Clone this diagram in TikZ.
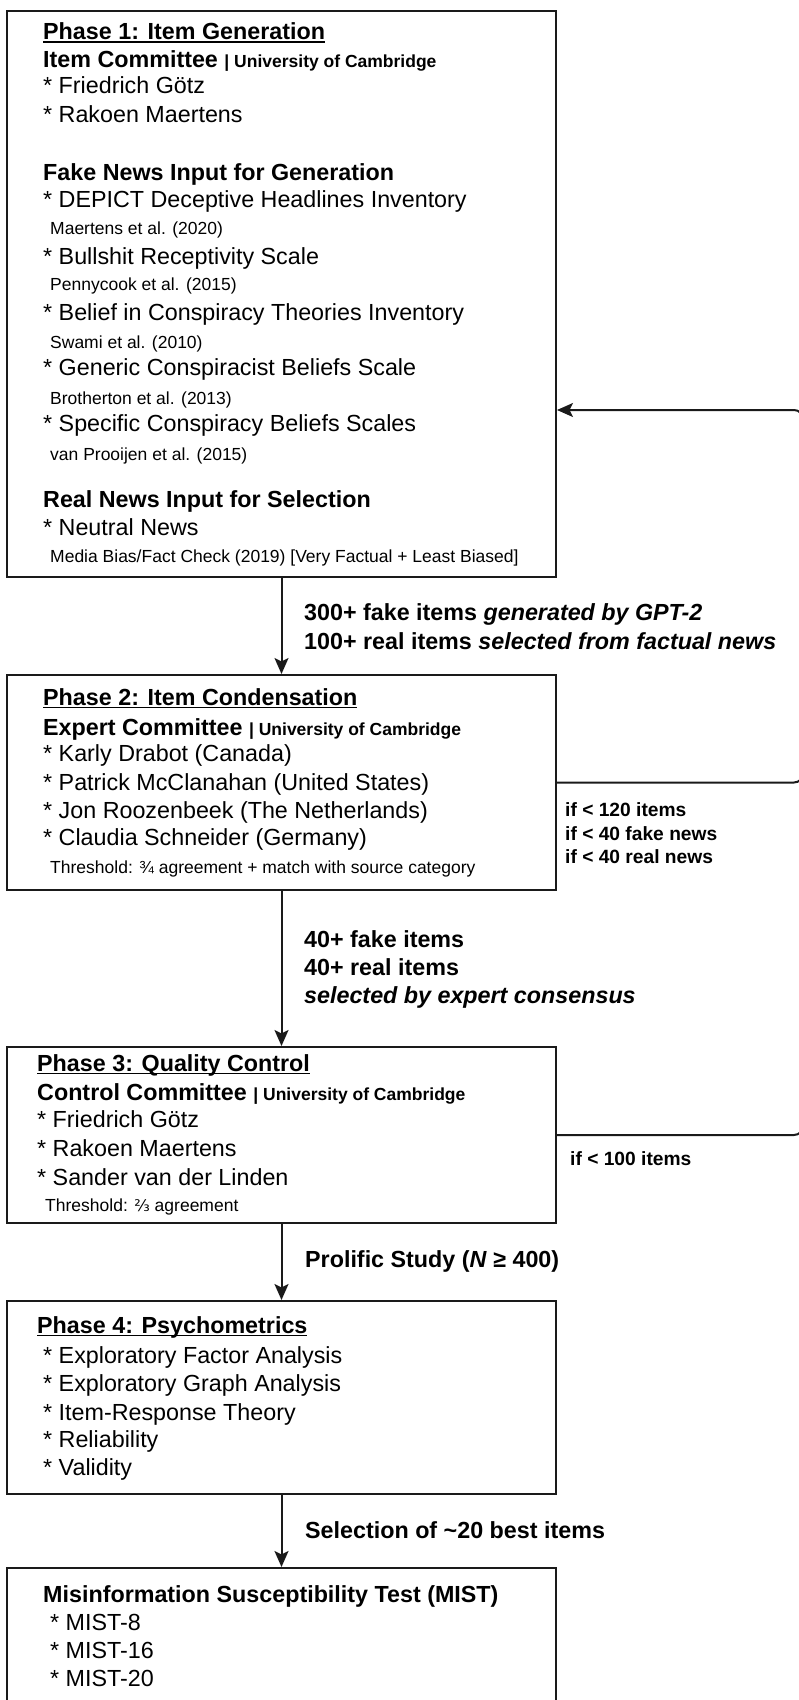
\documentclass[tikz,border=0pt]{standalone}
\usepackage{fontspec}
\setmainfont{Liberation Sans}
\newfontfamily\djv{DejaVu Sans}
\usetikzlibrary{arrows.meta}
\definecolor{ink}{HTML}{1A1A1A}
\newcommand\szL{\fontsize{23.3}{28}\selectfont}
\newcommand\szS{\fontsize{17.5}{21}\selectfont}
\newcommand\szM{\fontsize{19.2}{23}\selectfont}
\newcommand\myul[1]{\setbox0\hbox{#1}\rlap{\rule[-3.4pt]{\wd0}{1.7pt}}\box0}
\begin{document}
\begin{tikzpicture}[x=1pt,y=-1pt,
  box/.style={draw=ink, line width=2pt, anchor=north west, inner sep=0pt, minimum width=549pt},
  conn/.style={draw=ink, line width=2pt},
  arr/.style={conn, -{Stealth[length=16pt,width=14pt,inset=3.5pt]}},
  txt/.style={anchor=base west, inner sep=0pt, font=\szL, text=black},
  sm/.style={txt, font=\szS},
  hd/.style={txt, font=\szL\bfseries},
  lbs/.style={txt, font=\szM\bfseries}]
\useasboundingbox (0,0) rectangle (799,1700);
\clip (0,0) rectangle (799,1700);

% boxes
\node[box, minimum height=566pt] (p1) at (6,10) {};
\node[box, minimum height=215pt] (p2) at (6,674) {};
\node[box, minimum height=176pt] (p3) at (6,1046) {};
\node[box, minimum height=193pt] (p4) at (6,1300) {};
\node[box, minimum height=200pt] (p5) at (6,1567) {};

% Phase 1
\node[hd] (h1) at (43,39.5) {\myul{Phase 1: Item Generation}};
\node[hd] (c1) at (43,67) {Item Committee {\szS| University of Cambridge}};
\node[txt] (a1) at (43,93) {* Friedrich Götz};
\node[txt] (a2) at (43,122) {* Rakoen Maertens};
\node[hd] (f1) at (43,180) {Fake News Input for Generation};
\node[txt] (f2) at (43,207) {* DEPICT Deceptive Headlines Inventory};
\node[sm] (f3) at (50,234) {Maertens et al. (2020)};
\node[txt] (f4) at (43,264) {* Bullshit Receptivity Scale};
\node[sm] (f5) at (50,290) {Pennycook et al. (2015)};
\node[txt] (f6) at (43,320) {* Belief in Conspiracy Theories Inventory};
\node[sm] (f7) at (50,348) {Swami et al. (2010)};
\node[txt] (f8) at (43,375) {* Generic Conspiracist Beliefs Scale};
\node[sm] (f9) at (50,404) {Brotherton et al. (2013)};
\node[txt] (f10) at (43,431) {* Specific Conspiracy Beliefs Scales};
\node[sm] (f11) at (50,460) {van Prooijen et al. (2015)};
\node[hd] (r1) at (43,507) {Real News Input for Selection};
\node[txt] (r2) at (43,535) {* Neutral News};
\node[sm] (r3) at (50,562) {Media Bias/Fact Check (2019) [Very Factual + Least Biased]};

% Phase 2
\node[hd] (h2) at (43,705) {\myul{Phase 2: Item Condensation}};
\node[hd] (c2) at (43,735) {Expert Committee {\szS| University of Cambridge}};
\node[txt] (b1) at (43,761) {* Karly Drabot (Canada)};
\node[txt] (b2) at (43,790) {* Patrick McClanahan (United States)};
\node[txt] (b3) at (43,818) {* Jon Roozenbeek (The Netherlands)};
\node[txt] (b4) at (43,845) {* Claudia Schneider (Germany)};
\node[sm] (b5) at (50,873) {Threshold: ¾ agreement + match with source category};

% Phase 3
\node[hd] (h3) at (37,1071) {\myul{Phase 3: Quality Control}};
\node[hd] (c3) at (37,1100) {Control Committee {\szS| University of Cambridge}};
\node[txt] (d1) at (37,1127) {* Friedrich Götz};
\node[txt] (d2) at (37,1156) {* Rakoen Maertens};
\node[txt] (d3) at (37,1185) {* Sander van der Linden};
\node[sm] (d4) at (45,1211) {Threshold: {\djv\fontsize{16}{20}\selectfont ⅔} agreement};

% Phase 4
\node[hd] (h4) at (37,1333) {\myul{Phase 4: Psychometrics}};
\node[txt] (e1) at (43,1363) {* Exploratory Factor Analysis};
\node[txt] (e2) at (43,1391) {* Exploratory Graph Analysis};
\node[txt] (e3) at (43,1420) {* Item-Response Theory};
\node[txt] (e4) at (43,1447) {* Reliability};
\node[txt] (e5) at (43,1475) {* Validity};

% Final
\node[hd] (h5) at (43,1602) {Misinformation Susceptibility Test (MIST)};
\node[txt] (m1) at (50,1630) {* MIST-8};
\node[txt] (m2) at (50,1658) {* MIST-16};
\node[txt] (m3) at (50,1686) {* MIST-20};

% main arrows
\draw[arr] (p1.south) -- (p2.north);
\draw[arr] (p2.south) -- (p3.north);
\draw[arr] (p3.south) -- (p4.north);
\draw[arr] (p4.south) -- (p5.north);

% arrow labels
\node[hd] (l1) at (304,620) {300+ fake items \textit{generated by GPT-2}};
\node[hd] (l2) at (304,649) {100+ real items \textit{selected from factual news}};
\node[hd] (l3) at (304,947) {40+ fake items};
\node[hd] (l4) at (304,975) {40+ real items};
\node[hd] (l5) at (304,1003) {\textit{selected by expert consensus}};
\node[hd] (l6) at (305,1267) {Prolific Study (\textit{N} ≥ 400)};
\node[hd] (l7) at (305,1538) {Selection of \textasciitilde 20 best items};

% feedback loop
\coordinate (rx) at (803,410);
\draw[arr, rounded corners=9pt] (p3.east) -- (rx |- p3.east) -- (rx) -- (p1.east |- rx);
\draw[conn, rounded corners=9pt] (p2.east) -- (rx |- p2.east) -- ++(0,-40);
\node[lbs] (k1) at (565,816.5) {if < 120 items};
\node[lbs] (k2) at (565,840) {if < 40 fake news};
\node[lbs] (k3) at (565,863.5) {if < 40 real news};
\node[lbs] (k4) at (570,1165) {if < 100 items};
\end{tikzpicture}
\end{document}
